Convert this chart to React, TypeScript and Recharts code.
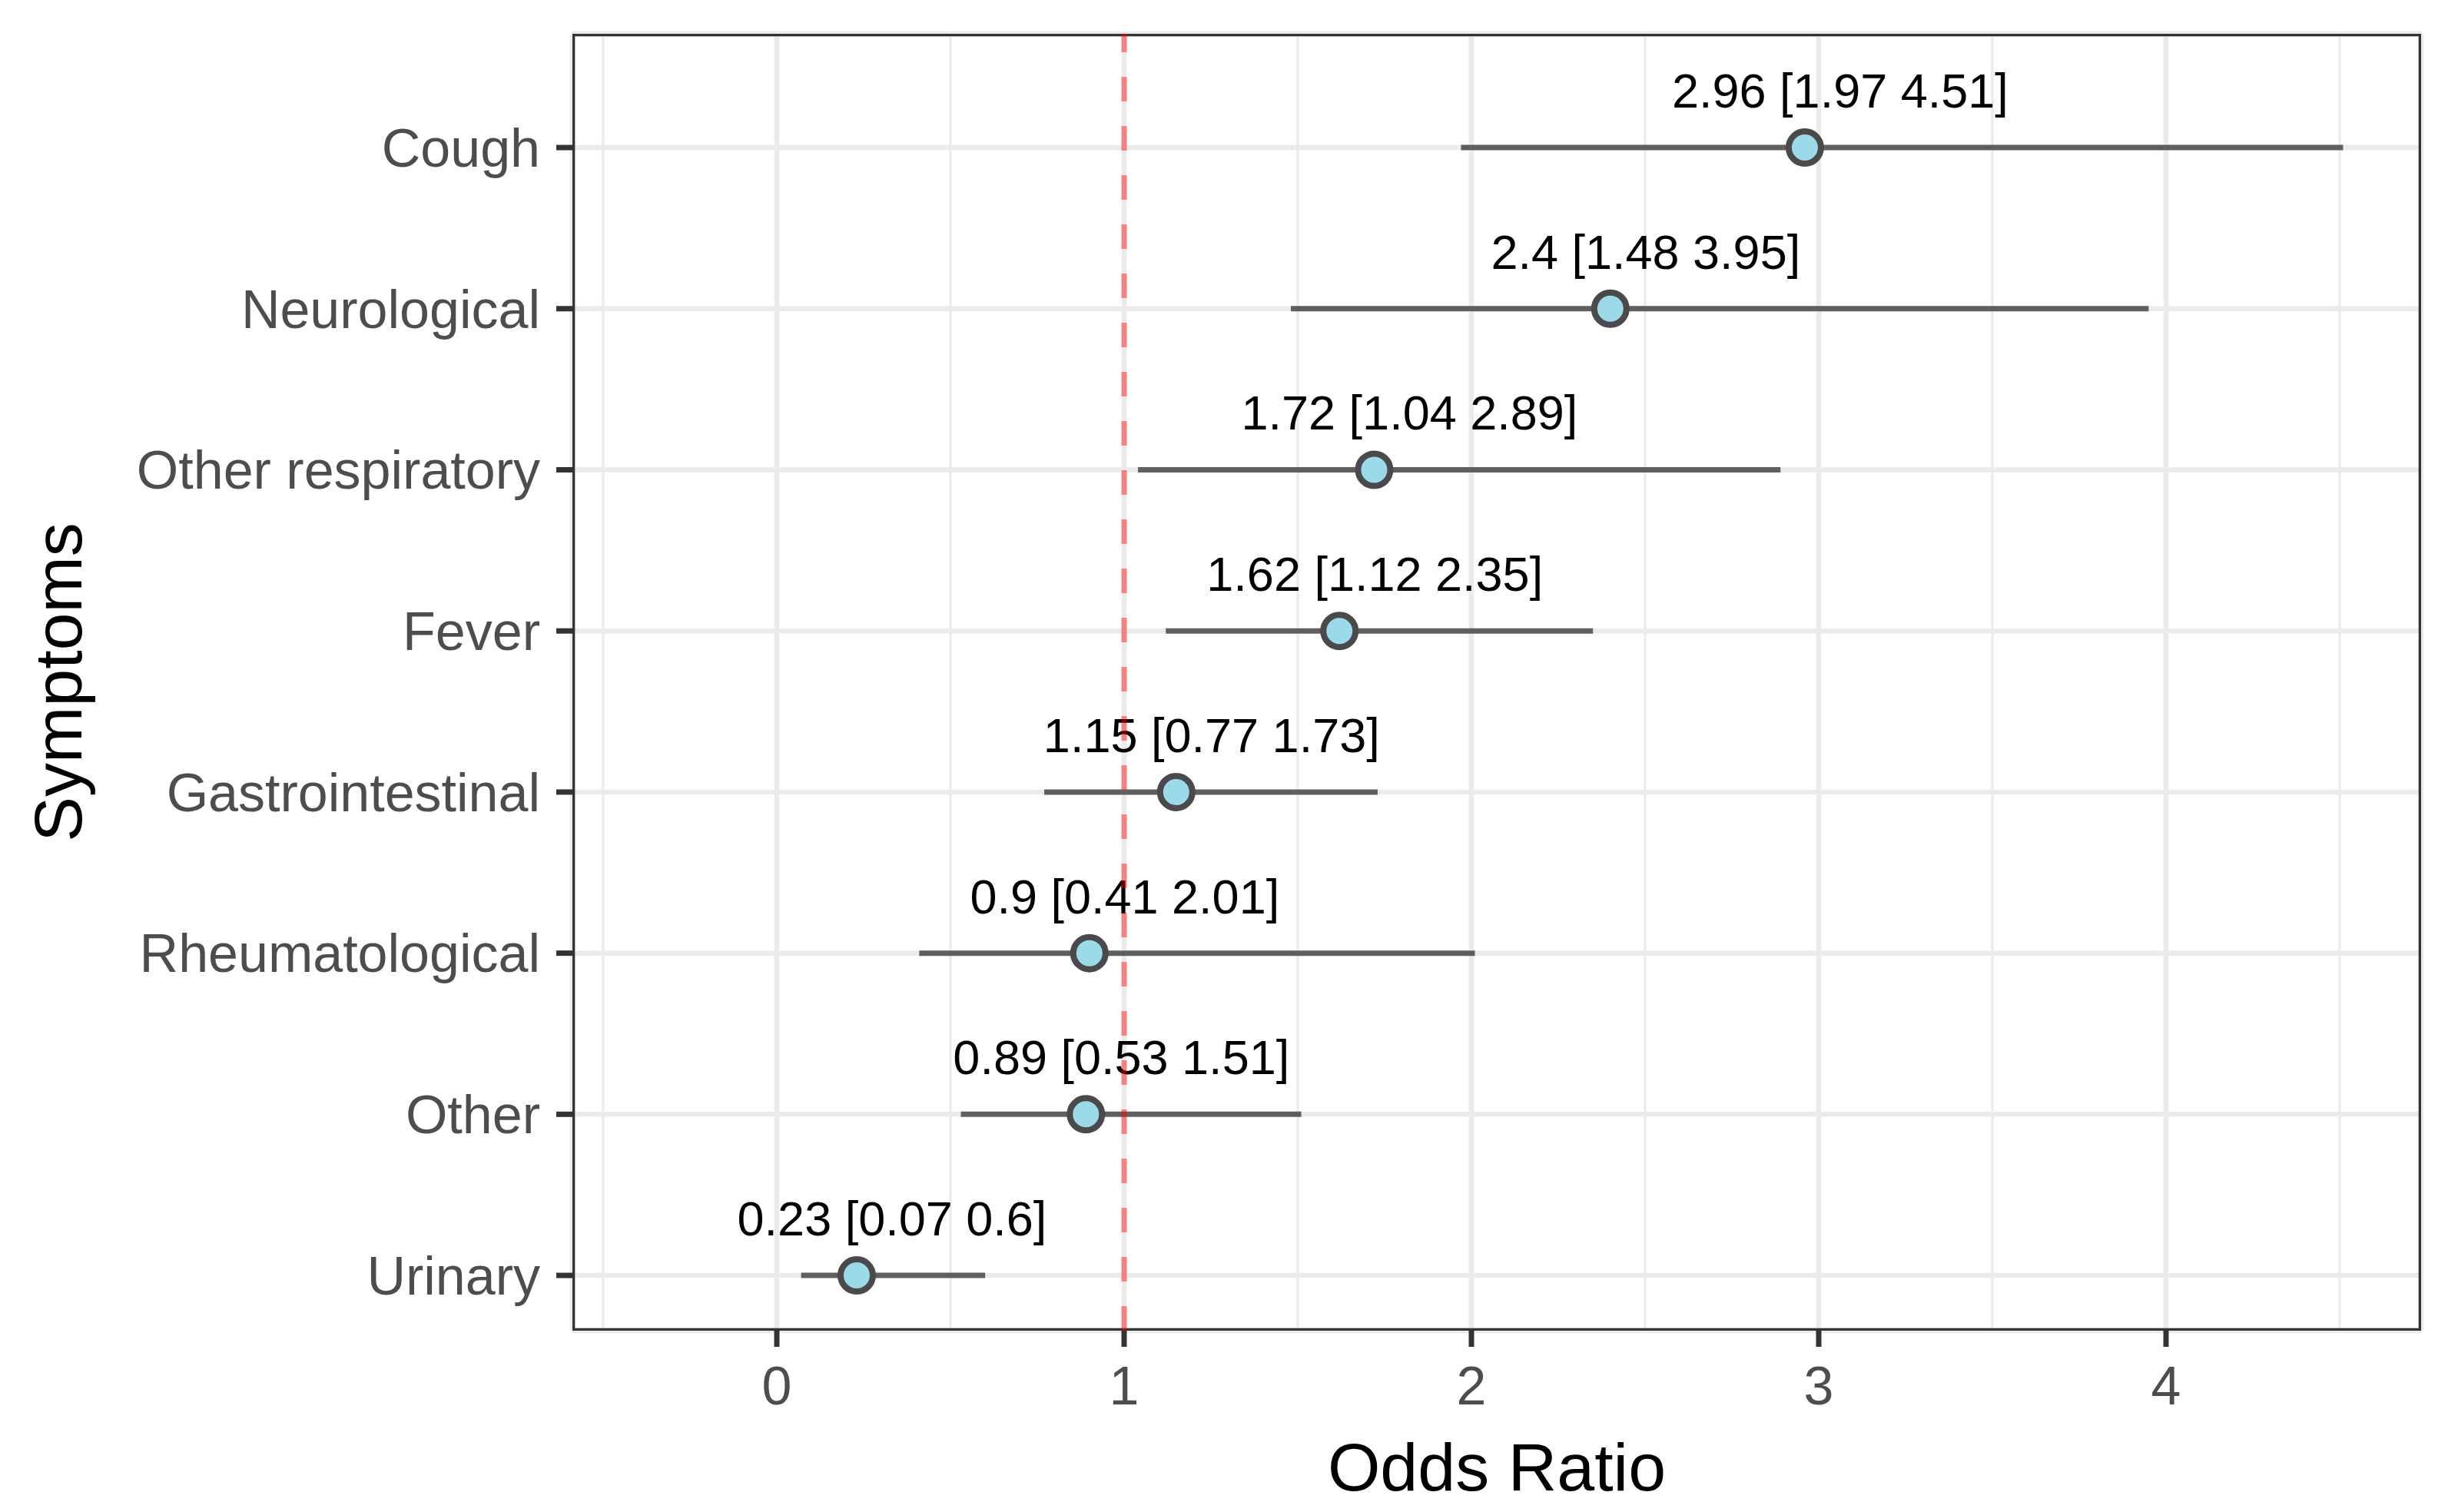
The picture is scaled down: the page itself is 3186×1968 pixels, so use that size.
import * as R from 'recharts'
import { ComposedChart, Scatter, XAxis, YAxis, CartesianGrid, ReferenceLine, ErrorBar } from 'recharts'

// symptoms listed top to bottom, as in the plot
const symptoms = ['Cough', 'Neurological', 'Other respiratory', 'Fever', 'Gastrointestinal', 'Rheumatological', 'Other', 'Urinary']
const oddsRatio = [2.96, 2.4, 1.72, 1.62, 1.15, 0.9, 0.89, 0.23]
const ciLower = [1.97, 1.48, 1.04, 1.12, 0.77, 0.41, 0.53, 0.07]
const ciUpper = [4.51, 3.95, 2.89, 2.35, 1.73, 2.01, 1.51, 0.6]

const xTicks = [0, 1, 2, 3, 4]
const xMinorTicks = [-0.5, 0.5, 1.5, 2.5, 3.5, 4.5]
const xDomain = [-0.5885, 4.7345]
const yDomain = [0.657, 8.706]
const refOdds = 1

const FONT = '"Liberation Sans", Arial, Helvetica, sans-serif'
const CHART_W = 3186
const CHART_H = 1968
const MARGIN = { top: 44, right: 35, bottom: 0, left: 0 }
const Y_AXIS_W = 745
const X_AXIS_H = 236

const n = symptoms.length
const yTicks = symptoms.map((_, i) => n - i)

const data = symptoms.map((name, i) => ({
  name,
  pos: n - i,
  or: oddsRatio[i],
  err: [oddsRatio[i] - ciLower[i], ciUpper[i] - oddsRatio[i]],
  label: `${oddsRatio[i]} [${ciLower[i]} ${ciUpper[i]}]`,
}))

function PointWithLabel(props: any) {
  const { cx, cy, payload } = props
  if (cx == null || cy == null) return null
  return (
    <g>
      <circle cx={cx} cy={cy} r={21} fill="#9BDAE8" stroke="#4A4A4A" strokeWidth={8} />
      <text x={cx + 46} y={cy - 52} textAnchor="middle" fontSize={63} fontFamily={FONT} fill="#000000">
        {payload.label}
      </text>
    </g>
  )
}

const usePlotAreaSafe: () => any = (R as any).usePlotArea ?? (() => null)

// ggplot theme_bw panel border (half of it clipped by the panel)
function PanelBorder() {
  const area = usePlotAreaSafe()
  const x = area?.x ?? MARGIN.left + Y_AXIS_W
  const y = area?.y ?? MARGIN.top
  const w = area?.width ?? CHART_W - MARGIN.left - MARGIN.right - Y_AXIS_W
  const h = area?.height ?? CHART_H - MARGIN.top - MARGIN.bottom - X_AXIS_H
  const sw = 3.3
  return <rect x={x + sw / 2} y={y + sw / 2} width={w - sw} height={h - sw} fill="none" stroke="#333333" strokeWidth={sw} />
}

export default function App() {
  const tickStyle = { fontSize: 70, fill: '#4D4D4D', fontFamily: FONT }
  return (
    <div style={{ position: 'absolute', left: 0, top: 0, background: '#ffffff' }}>
      <ComposedChart width={CHART_W} height={CHART_H} data={data} margin={MARGIN}>
        <XAxis xAxisId="minor" type="number" dataKey="or" domain={xDomain} ticks={xMinorTicks} allowDataOverflow hide />
        <XAxis
          type="number"
          dataKey="or"
          domain={xDomain}
          ticks={xTicks}
          interval={0}
          allowDataOverflow
          height={X_AXIS_H}
          axisLine={false}
          tickLine={{ stroke: '#333333', strokeWidth: 7 }}
          tickSize={21}
          tickMargin={25}
          tick={tickStyle}
          label={(p: any) => {
            const vb = p.viewBox
            return (
              <text x={vb.x + vb.width / 2} y={vb.y + 208} textAnchor="middle" fontSize={88} fontFamily={FONT} fill="#000000">
                Odds Ratio
              </text>
            )
          }}
        />
        <YAxis
          type="number"
          dataKey="pos"
          domain={yDomain}
          ticks={yTicks}
          interval={0}
          allowDataOverflow
          width={Y_AXIS_W}
          axisLine={false}
          tickLine={{ stroke: '#333333', strokeWidth: 7 }}
          tickSize={21}
          tickMargin={21}
          tick={tickStyle}
          tickFormatter={(v: number) => symptoms[n - v]}
          label={(p: any) => {
            const vb = p.viewBox
            const x = vb.x + 106
            const y = vb.y + vb.height / 2
            return (
              <text x={x} y={y} transform={`rotate(-90 ${x} ${y})`} textAnchor="middle" fontSize={88} fontFamily={FONT} fill="#000000">
                Symptoms
              </text>
            )
          }}
        />
        <CartesianGrid xAxisId="minor" horizontal={false} stroke="#EBEBEB" strokeWidth={3.3} />
        <CartesianGrid stroke="#EBEBEB" strokeWidth={6.5} />
        <Scatter data={data} dataKey="or" shape={PointWithLabel} isAnimationActive={false}>
          <ErrorBar dataKey="err" direction="x" width={0} stroke="#5F5F5F" strokeWidth={7} isAnimationActive={false} />
        </Scatter>
        <ReferenceLine x={refOdds} stroke="#FF0000" strokeOpacity={0.45} strokeWidth={7} strokeDasharray="32 32" zIndex={700} />
        <PanelBorder />
      </ComposedChart>
    </div>
  )
}
